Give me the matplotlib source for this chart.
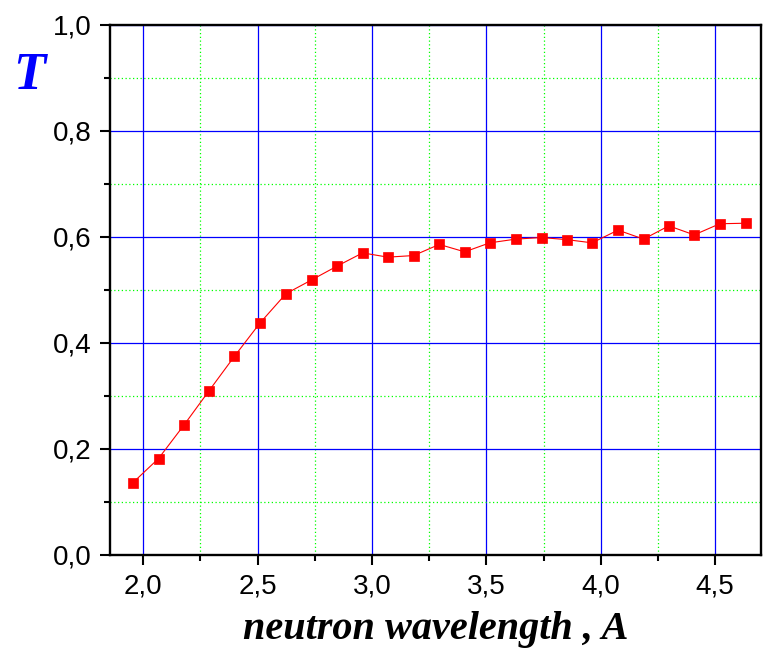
from matplotlib import pyplot as plt
from matplotlib.ticker import MultipleLocator, FuncFormatter

# wavelength (A) and transmission T
wavelength = [1.954, 2.067, 2.178, 2.288, 2.399, 2.511, 2.624, 2.736, 2.847,
              2.959, 3.069, 3.182, 3.294, 3.405, 3.515, 3.628, 3.741, 3.852,
              3.962, 4.075, 4.187, 4.297, 4.408, 4.520, 4.633]
transmission = [0.136, 0.182, 0.245, 0.310, 0.375, 0.438, 0.493, 0.519, 0.545,
                0.570, 0.562, 0.565, 0.586, 0.572, 0.589, 0.596, 0.599, 0.595,
                0.589, 0.613, 0.596, 0.621, 0.604, 0.625, 0.626]

fig = plt.figure(figsize=(7.69, 6.56), dpi=100)
ax = fig.add_axes([110 / 769, 1 - 555 / 656, 651 / 769, 530 / 656])

ax.plot(wavelength, transmission, '-', color='red', lw=0.8,
        marker='s', markersize=7.2, markerfacecolor='red',
        markeredgecolor='red', markeredgewidth=0.5, zorder=3)

ax.set_xlim(1.855, 4.70)
ax.set_ylim(0.0, 1.0)

ax.xaxis.set_major_locator(MultipleLocator(0.5))
ax.xaxis.set_minor_locator(MultipleLocator(0.25))
ax.yaxis.set_major_locator(MultipleLocator(0.2))
ax.yaxis.set_minor_locator(MultipleLocator(0.1))

# decimal comma
comma = FuncFormatter(lambda v, pos: ('%.1f' % v).replace('.', ','))
ax.xaxis.set_major_formatter(comma)
ax.yaxis.set_major_formatter(comma)

ax.grid(which='major', color='#0000ff', lw=0.9, ls='-')
ax.grid(which='minor', color='#00ff00', lw=0.9, ls=(0, (1, 2)))
ax.set_axisbelow(True)

for side in ax.spines.values():
  side.set_linewidth(1.7)
ax.tick_params(which='both', direction='out', top=False, right=False,
               width=1.5, labelsize=20, labelfontfamily='Liberation Sans')
ax.tick_params(which='major', length=7.5, pad=6)
ax.tick_params(which='minor', length=4)

ax.set_xlabel('neutron wavelength , A', family='Liberation Serif',
              fontweight='bold', style='italic', fontsize=29, labelpad=8)
fig.text(29 / 769, 1 - 76 / 656, 'T', family='Liberation Serif',
         fontweight='bold', style='italic', fontsize=38, color='#0000ff',
         ha='center', va='center')

fig.savefig('out.png', dpi=100)
